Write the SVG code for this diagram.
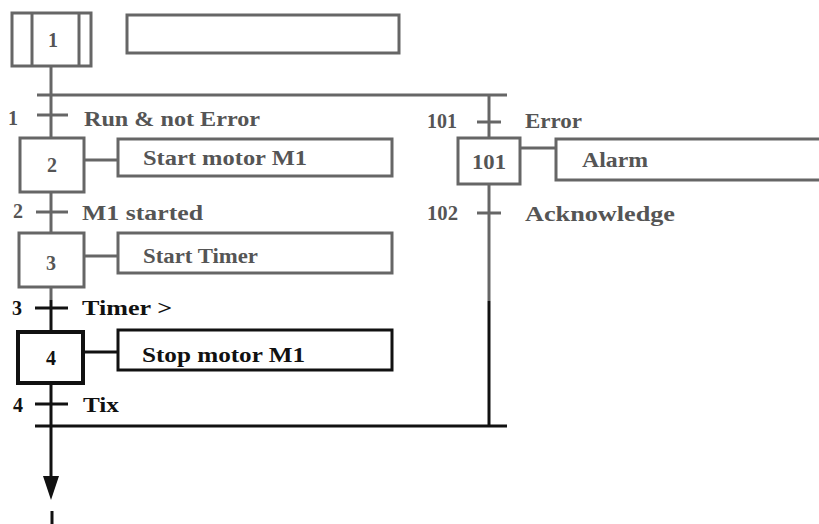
<svg xmlns="http://www.w3.org/2000/svg" width="819" height="524" viewBox="0 0 819 524">
<style>
  .g { stroke: #666; stroke-width: 3; fill: none; }
  .k { stroke: #111; stroke-width: 3; fill: none; }
  .kb { stroke: #111; stroke-width: 4; fill: none; }
  text { font-family: "Liberation Serif", "Times New Roman", serif; font-size: 20px; font-weight: bold; }
  .tg { fill: #555; }
  .tk { fill: #111; }
  .mid { text-anchor: middle; }
</style>
<rect width="819" height="524" fill="#fff"/>
<g id="connectors">
  <!-- left main line -->
  <line class="g" x1="51" y1="66" x2="51" y2="138"/>
  <line class="g" x1="51" y1="192" x2="51" y2="233"/>
  <line class="g" x1="51" y1="287" x2="51" y2="300"/>
  <line class="k" x1="51" y1="300" x2="51" y2="332"/>
  <line class="k" x1="51" y1="383" x2="51" y2="480"/>
  <polygon points="43,476 59,476 51,500" fill="#111"/>
  <line class="k" x1="52" y1="511" x2="52" y2="524"/>
  <!-- divergence / convergence -->
  <line class="g" x1="37" y1="95" x2="507" y2="95"/>
  <line class="k" x1="35" y1="426" x2="507" y2="426"/>
  <!-- right branch -->
  <line class="g" x1="489" y1="95" x2="489" y2="138"/>
  <line class="g" x1="489" y1="184" x2="489" y2="301"/>
  <line class="k" x1="489" y1="301" x2="489" y2="426"/>
  <!-- transitions -->
  <line class="g" x1="37" y1="115" x2="68" y2="115"/>
  <line class="g" x1="36" y1="212" x2="68" y2="212"/>
  <line class="k" x1="35" y1="308" x2="68" y2="308"/>
  <line class="k" x1="35" y1="404" x2="68" y2="404"/>
  <line class="g" x1="477" y1="122" x2="501" y2="122"/>
  <line class="g" x1="477" y1="213" x2="501" y2="213"/>
  <!-- action links -->
  <line class="g" x1="84" y1="160" x2="118" y2="160"/>
  <line class="g" x1="84" y1="256" x2="118" y2="256"/>
  <line class="k" x1="83" y1="352" x2="118" y2="352"/>
  <line class="g" x1="520" y1="148" x2="556" y2="148"/>
</g>
<g id="step1">
  <rect class="g" x="12" y="13" width="79" height="53"/>
  <line class="g" x1="32" y1="13" x2="32" y2="66"/>
  <line class="g" x1="79" y1="13" x2="79" y2="66"/>
  <text class="tg mid" x="53" y="47">1</text>
</g>
<g id="action1">
  <rect class="g" x="127" y="15" width="272" height="38"/>
</g>
<g id="t1">
  <text class="tg" x="8" y="125">1</text>
  <text class="tg" x="84" y="126" textLength="176" lengthAdjust="spacingAndGlyphs">Run &amp; not Error</text>
</g>
<g id="step2">
  <rect class="g" x="20" y="138" width="64" height="54"/>
  <text class="tg mid" x="52" y="172">2</text>
</g>
<g id="action2">
  <rect class="g" x="118" y="139" width="274" height="37"/>
  <text class="tg" x="143" y="165" textLength="164" lengthAdjust="spacingAndGlyphs">Start motor M1</text>
</g>
<g id="t2">
  <text class="tg" x="13" y="218">2</text>
  <text class="tg" x="82" y="220" textLength="121" lengthAdjust="spacingAndGlyphs">M1 started</text>
</g>
<g id="step3">
  <rect class="g" x="19" y="233" width="65" height="54"/>
  <text class="tg mid" x="51" y="270">3</text>
</g>
<g id="action3">
  <rect class="g" x="118" y="233" width="274" height="40"/>
  <text class="tg" x="143" y="263" textLength="115" lengthAdjust="spacingAndGlyphs">Start Timer</text>
</g>
<g id="t3">
  <text class="tk" x="12" y="315">3</text>
  <text class="tk" x="82" y="315" textLength="90" lengthAdjust="spacingAndGlyphs">Timer &gt;</text>
</g>
<g id="step4">
  <rect class="kb" x="18" y="332" width="65" height="51"/>
  <text class="tk mid" x="51" y="365">4</text>
</g>
<g id="action4">
  <rect class="k" x="118" y="330" width="274" height="40"/>
  <text class="tk" x="142" y="362" textLength="163" lengthAdjust="spacingAndGlyphs">Stop motor M1</text>
</g>
<g id="t4">
  <text class="tk" x="13" y="412">4</text>
  <text class="tk" x="83" y="412" textLength="36" lengthAdjust="spacingAndGlyphs">Tix</text>
</g>
<g id="t101">
  <text class="tg" x="427" y="128" textLength="30" lengthAdjust="spacingAndGlyphs">101</text>
  <text class="tg" x="525" y="128" textLength="57" lengthAdjust="spacingAndGlyphs">Error</text>
</g>
<g id="step101">
  <rect class="g" x="458" y="138" width="62" height="46"/>
  <text class="tg mid" x="489" y="169" textLength="34" lengthAdjust="spacingAndGlyphs">101</text>
</g>
<g id="action101">
  <path class="g" d="M830,139 H556 V180 H830"/>
  <text class="tg" x="582" y="167" textLength="66" lengthAdjust="spacingAndGlyphs">Alarm</text>
</g>
<g id="t102">
  <text class="tg" x="427" y="220" textLength="31" lengthAdjust="spacingAndGlyphs">102</text>
  <text class="tg" x="525" y="221" textLength="150" lengthAdjust="spacingAndGlyphs">Acknowledge</text>
</g>
</svg>
